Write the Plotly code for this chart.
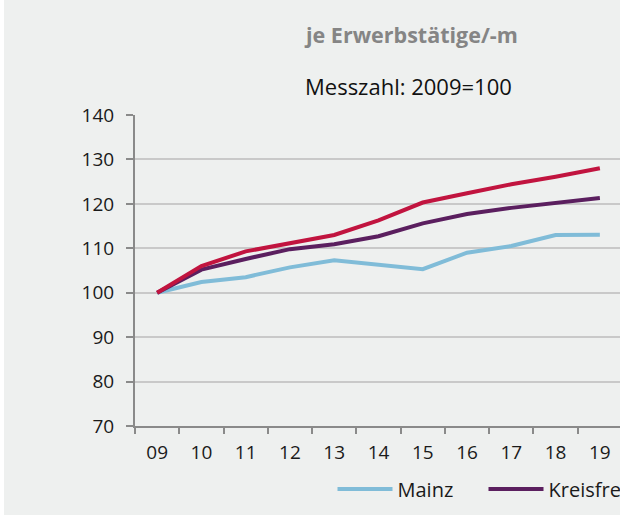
import plotly.graph_objects as go

years = ["09", "10", "11", "12", "13", "14", "15", "16", "17", "18", "19"]
mainz = [100, 102.4, 103.5, 105.7, 107.3, 106.3, 105.3, 109.0, 110.5, 113.0, 113.05]
kreisfreie = [100, 105.2, 107.6, 109.8, 110.9, 112.7, 115.6, 117.7, 119.1, 120.1, 121.3]
rlp = [100, 106.0, 109.3, 111.2, 113.0, 116.3, 120.3, 122.4, 124.4, 126.1, 128.0]
series_names = ["Mainz", "Kreisfreie Städte", "Rheinland-Pfalz"]
series_colors = ["#80bcd8", "#5b1f5f", "#c1143f"]
y_ticks = [70, 80, 90, 100, 110, 120, 130, 140]

BG = "#eef0ef"
FONT = "Open Sans"
W, H = 1000, 515
L, R_EDGE = 131, 618.3
T, B = 115, 89

fig = go.Figure()
for name, vals, col in zip(series_names, [mainz, kreisfreie, rlp], series_colors):
    fig.add_trace(go.Scatter(x=years, y=vals, mode="lines", name=name,
                             line=dict(color=col, width=4)))

pw = R_EDGE - L
ph = H - T - B
def px2paper(px):
    return (px - L) / pw

fig.update_layout(
    width=W, height=H,
    margin=dict(l=L, r=W - R_EDGE, t=T, b=B, pad=0, autoexpand=False),
    paper_bgcolor=BG, plot_bgcolor=BG,
    font=dict(family=FONT, size=19, color="#1a1a1a"),
    showlegend=True,
    legend=dict(orientation="h", xref="container", yref="container",
                x=328.5 / W, xanchor="left", y=1 - 489 / H, yanchor="middle",
                font=dict(size=20, color="#1a1a1a"), bgcolor="rgba(0,0,0,0)",
                itemwidth=55, traceorder="normal", entrywidth=81),
    xaxis=dict(type="category", range=[-0.5, 10.5], showgrid=False,
               showline=True, linecolor="#8a8a8a", linewidth=2,
               ticks="outside", tickson="boundaries", ticklen=6, tickwidth=2,
               tickcolor="#8a8a8a", ticklabelstandoff=8,
               tickfont=dict(size=19, color="#1a1a1a"), fixedrange=True),
    yaxis=dict(range=[70, 140], tickvals=y_ticks, showgrid=True,
               gridcolor="#c9c9c9", gridwidth=1.5,
               showline=True, linecolor="#8a8a8a", linewidth=2,
               ticks="outside", ticklen=7, tickwidth=2, tickcolor="#8a8a8a",
               ticklabelstandoff=8, zeroline=False,
               tickfont=dict(size=19, color="#1a1a1a"), fixedrange=True),
    annotations=[
        dict(text="<b>je Erwerbstätige/-m</b>", xref="paper", yref="paper",
             x=px2paper(411 - 4), y=1 + (T - 35) / ph,
             xanchor="center", yanchor="middle", showarrow=False,
             font=dict(size=21.5, color="#858585", family=FONT)),
        dict(text="Messzahl: 2009=100", xref="paper", yref="paper",
             x=px2paper(409 - 4), y=1 + (T - 86) / ph,
             xanchor="center", yanchor="middle", showarrow=False,
             font=dict(size=22, color="#111111", family=FONT)),
    ],
)

post = """
document.documentElement.style.overflow='hidden';
document.body.style.margin='0';
document.body.style.overflow='hidden';
document.body.style.background='#ffffff';
document.getElementById('{plot_id}').style.marginLeft='4px';
"""
fig.write_html("out.html", post_script=post, config={"displayModeBar": False})
